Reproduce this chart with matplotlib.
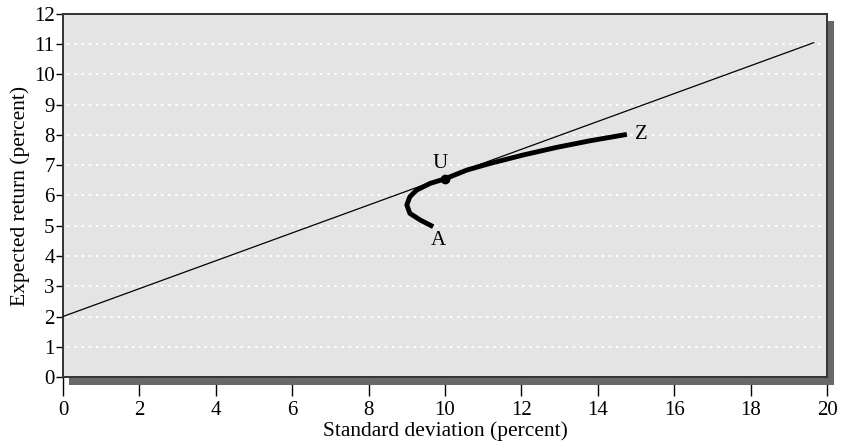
import matplotlib.pyplot as plt
from matplotlib.patches import Rectangle

plt.rcParams['font.family'] = ['Liberation Serif', 'DejaVu Serif']

# capital market line (risk-free 2%)
cml_x = [0, 19.65]
cml_y = [2.0, 11.05]

# efficient frontier A -> Z
front_x = [9.69, 9.35, 9.08, 9.0, 9.08, 9.26, 9.61, 10.0, 10.57, 11.18, 12.05, 12.92, 13.8, 14.76]
front_y = [4.97, 5.19, 5.41, 5.69, 5.96, 6.18, 6.40, 6.55, 6.84, 7.06, 7.34, 7.59, 7.81, 8.02]

u_point = (10.0, 6.55)

xticks = list(range(0, 21, 2))
yticks = list(range(0, 13))

fig = plt.figure(figsize=(8.41, 4.47), dpi=100)
ax = fig.add_axes([63/841, 70/447, 764/841, 363/447])
ax.set_facecolor('#e4e4e4')

for y in yticks[1:-1]:
    ax.plot([0.1, 19.85], [y, y], color='white', linestyle=(0, (1.5, 2.5)), linewidth=1.3, zorder=1)

ax.plot(cml_x, cml_y, color='black', linewidth=0.9, zorder=3)
ax.plot(front_x, front_y, color='black', linewidth=3.5, solid_capstyle='butt',
        solid_joinstyle='round', zorder=4)
ax.plot(*u_point, 'o', color='black', markersize=6, zorder=5)

ax.text(9.87, 7.07, 'U', fontsize=15, ha='center', va='center')
ax.text(9.82, 4.5, 'A', fontsize=15, ha='center', va='center')
ax.text(15.15, 8.02, 'Z', fontsize=15, ha='center', va='center')

ax.set_xlim(0, 20)
ax.set_ylim(0, 12)
ax.set_xticks(xticks)
ax.set_yticks(yticks)
ax.tick_params(axis='x', direction='out', length=14, width=1, pad=3, labelsize=15)
ax.tick_params(axis='y', direction='out', length=5, width=1, pad=1, labelsize=15)
for s in ax.spines.values():
    s.set_color('#333333')
    s.set_linewidth(1.4)

ax.set_xlabel('Standard deviation (percent)', fontsize=15.5, labelpad=1)
ax.set_ylabel('Expected return (percent)', fontsize=15.5, labelpad=3)

# drop shadow right and below the plot box
fig.patches.append(Rectangle((69/841, 62/447), 764/841, 7.5/447, transform=fig.transFigure,
                             facecolor='#686868', edgecolor='none', zorder=1))
fig.patches.append(Rectangle((827.5/841, 62/447), 6/841, (426-62)/447, transform=fig.transFigure,
                             facecolor='#686868', edgecolor='none', zorder=1))

fig.savefig('out.png', dpi=100)
